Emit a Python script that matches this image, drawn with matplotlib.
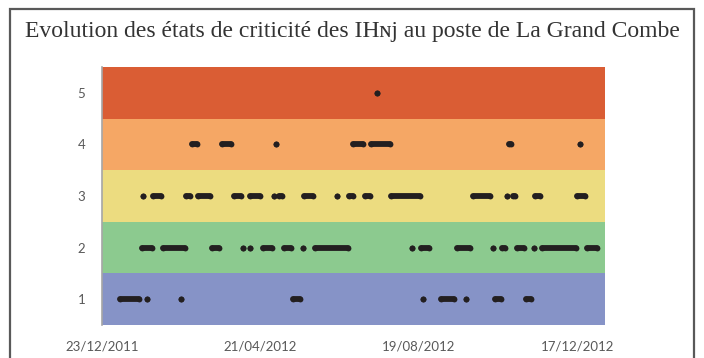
import numpy as np
import matplotlib.pyplot as plt
from matplotlib.patches import Rectangle

# runs of consecutive days (offset from the first day) per criticality level
start_date = np.datetime64('2011-12-23')
runs_level1 = [(14, 28), (34, 34), (60, 60), (145, 150), (243, 243), (257, 267),
               (276, 276), (298, 302), (321, 325)]
runs_level2 = [(30, 38), (46, 63), (83, 89), (107, 107), (112, 112), (122, 129),
               (138, 143), (152, 152), (161, 186), (235, 235), (242, 248),
               (269, 279), (296, 296), (303, 305), (314, 320), (327, 327),
               (333, 359), (367, 375)]
runs_level3 = [(31, 31), (39, 45), (64, 67), (73, 82), (100, 105), (112, 120),
               (130, 130), (134, 136), (153, 160), (178, 178), (187, 190),
               (199, 203), (219, 241), (281, 294), (307, 307), (311, 313),
               (328, 332), (360, 366)]
runs_level4 = [(68, 72), (91, 98), (132, 132), (190, 198), (204, 218),
               (308, 310), (362, 362)]
runs_level5 = [(208, 208)]

levels = [1, 2, 3, 4, 5]
band_colors = ['#8693c7', '#8cca8f', '#ecdc80', '#f5a765', '#da5d34']
tick_days = [0, 120, 240, 360]
last_day = 381

fig = plt.figure(figsize=(7.04, 3.58), dpi=100)
fig.patches.append(Rectangle((10 / 704, -0.05), 684 / 704, 1.05 - 9 / 358,
                             transform=fig.transFigure, fill=False,
                             edgecolor='#595959', linewidth=1.6))
fig.text(0.5, 1 - 31 / 358, 'Evolution des états de criticité des IHɴj au poste de La Grand Combe',
         ha='center', va='center', fontsize=17, color='#333333',
         family=['Liberation Serif', 'DejaVu Serif'])

ax = fig.add_axes([102 / 704, 1 - 325 / 358, 503 / 704, 258 / 358])
for lvl, col in zip(levels, band_colors):
    ax.axhspan(lvl - 0.5, lvl + 0.5, color=col, zorder=0, linewidth=0)

all_runs = [runs_level1, runs_level2, runs_level3, runs_level4, runs_level5]
for lvl, runs in zip(levels, all_runs):
    for s, e in runs:
        xs = start_date + np.array([s, e]).astype('timedelta64[D]')
        ax.plot(xs, [lvl, lvl], '-o', color='#231f20', linewidth=4.2,
                markersize=4.2, markeredgewidth=0, solid_capstyle='round',
                zorder=3)

ax.set_xlim(start_date, start_date + np.timedelta64(last_day, 'D'))
ax.set_ylim(0.5, 5.5)
tick_dates = start_date + np.array(tick_days).astype('timedelta64[D]')
ax.set_xticks(tick_dates)
ax.set_xticklabels([str(d.astype(object).strftime('%d/%m/%Y')) for d in tick_dates])
ax.set_yticks(levels)
ax.tick_params(length=0, labelsize=9.5, labelcolor='#595959', pad=11)
ax.tick_params(axis='y', pad=12)
for lab in ax.get_xticklabels() + ax.get_yticklabels():
    lab.set_family('Lato')
for side in ['top', 'right', 'bottom']:
    ax.spines[side].set_visible(False)
ax.spines['left'].set_color('#a6a6a6')
ax.spines['left'].set_linewidth(1.2)

fig.savefig('out.png', dpi=100)
